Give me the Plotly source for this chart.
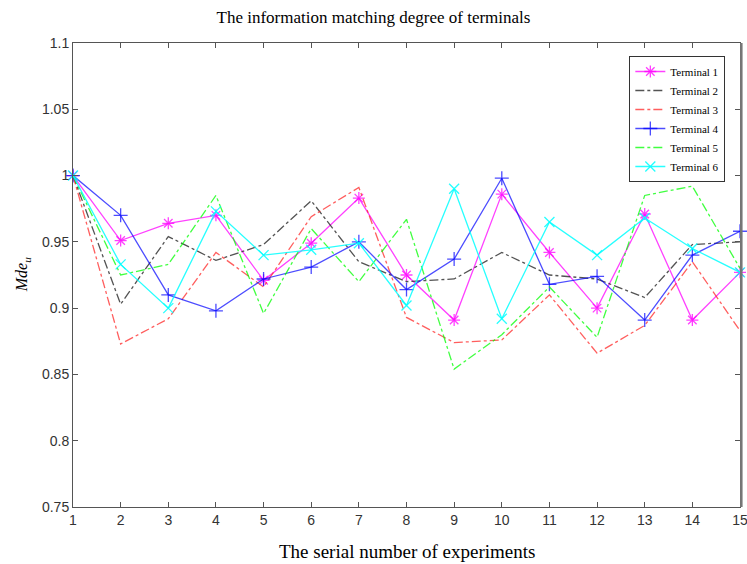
import plotly.graph_objects as go

experiments = list(range(1, 16))
terminal_1 = [1.0, 0.951, 0.964, 0.970, 0.921, 0.949, 0.983, 0.925, 0.891, 0.986, 0.942, 0.900, 0.971, 0.891, 0.927]
terminal_2 = [1.0, 0.903, 0.954, 0.936, 0.948, 0.981, 0.935, 0.920, 0.922, 0.942, 0.925, 0.922, 0.908, 0.948, 0.950]
terminal_3 = [1.0, 0.873, 0.892, 0.942, 0.916, 0.969, 0.991, 0.893, 0.874, 0.876, 0.910, 0.866, 0.887, 0.935, 0.883]
terminal_4 = [1.0, 0.970, 0.910, 0.898, 0.922, 0.931, 0.950, 0.914, 0.937, 0.998, 0.918, 0.924, 0.891, 0.940, 0.958]
terminal_5 = [1.0, 0.925, 0.933, 0.985, 0.896, 0.960, 0.920, 0.967, 0.854, 0.880, 0.916, 0.878, 0.985, 0.992, 0.930]
terminal_6 = [1.0, 0.933, 0.900, 0.973, 0.940, 0.944, 0.949, 0.902, 0.990, 0.892, 0.965, 0.940, 0.968, 0.945, 0.927]

y_ticks = [0.75, 0.8, 0.85, 0.9, 0.95, 1.0, 1.05, 1.1]
y_tick_labels = ["0.75", "0.8", "0.85", "0.9", "0.95", "1", "1.05", "1.1"]

series = [
    ("Terminal 1", terminal_1, "rgba(255,0,255,0.75)", "solid", "asterisk-open"),
    ("Terminal 2", terminal_2, "rgba(40,40,40,0.8)", "dashdot", None),
    ("Terminal 3", terminal_3, "rgba(255,40,40,0.75)", "dashdot", None),
    ("Terminal 4", terminal_4, "rgba(0,0,255,0.7)", "solid", "cross-thin-open"),
    ("Terminal 5", terminal_5, "rgba(0,255,0,0.75)", "dashdot", None),
    ("Terminal 6", terminal_6, "rgba(0,255,255,0.85)", "solid", "x-thin-open"),
]

fig = go.Figure()
for name, vals, color, dash, sym in series:
    kw = dict(mode="lines")
    if sym:
        kw = dict(mode="lines+markers",
                  marker=dict(symbol=sym, size=10, color=color,
                              line=dict(color=color, width=1.3)))
    fig.add_trace(go.Scatter(x=experiments, y=vals, name=name, cliponaxis=False,
                             line=dict(color=color, dash=dash, width=1.3), **kw))

axis_common = dict(showline=True, linecolor="#555", linewidth=1, mirror="ticks",
                   ticks="inside", ticklen=5, tickcolor="#555", showgrid=False,
                   zeroline=False, automargin=False, ticklabeloverflow="allow",
                   tickfont=dict(family="Liberation Sans, Arial", size=14, color="#333"))

serif = "Liberation Serif, Times New Roman"
fig.update_layout(
    width=747, height=564,
    margin=dict(l=73, r=7, t=43, b=57),
    paper_bgcolor="white", plot_bgcolor="white",
    title=dict(text="The information matching degree of terminals",
               x=0.5, xanchor="center", y=0.97, yanchor="middle",
               font=dict(family=serif, size=17, color="black")),
    xaxis=dict(range=[1, 15], tickmode="array", tickvals=experiments, **axis_common),
    yaxis=dict(range=[0.75, 1.1], tickmode="array", tickvals=y_ticks, ticktext=y_tick_labels,
               **axis_common),
    shapes=[
        dict(type="line", xref="paper", yref="paper", x0=1.002, x1=1.002, y0=0, y1=1,
             line=dict(color="#777", width=2.5), layer="above"),
    ],
    annotations=[
        dict(text="The serial number of experiments", xref="paper", yref="paper",
             x=0.5, y=-0.095, xanchor="center", yanchor="middle", showarrow=False,
             font=dict(family=serif, size=19, color="black")),
        dict(text="<i>Mde<sub>u</sub></i>", xref="paper", yref="paper",
             x=-0.076, y=0.5, xanchor="center", yanchor="middle", showarrow=False,
             textangle=-90, font=dict(family=serif, size=16, color="black")),
    ],
    legend=dict(x=0.978, y=0.972, xanchor="right", yanchor="top",
                bgcolor="white", bordercolor="#333", borderwidth=1,
                font=dict(family=serif, size=11, color="black"),
                tracegroupgap=0, itemwidth=30),
    showlegend=True,
)

fig.write_html("out.html", config={"displayModeBar": False},
               post_script="document.body.style.margin='0';document.body.style.overflow='hidden';")
